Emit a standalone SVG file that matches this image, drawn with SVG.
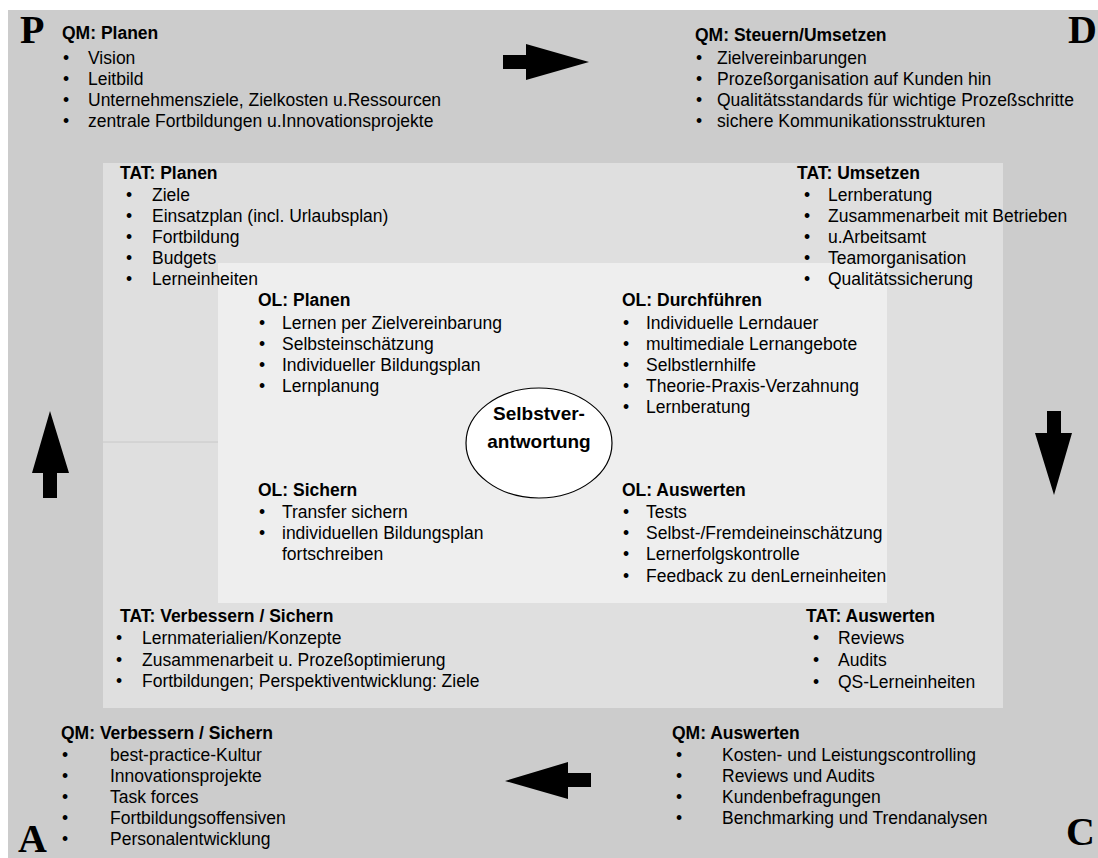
<svg xmlns="http://www.w3.org/2000/svg" width="1098" height="858" viewBox="0 0 1098 858">
<style>
text{font-family:"Liberation Sans",Arial,sans-serif;font-size:17.5px;fill:#000}
.h{font-weight:bold}
.c{font-weight:bold;font-size:19px}
.big{font-family:"Liberation Serif","Times New Roman",serif;font-size:40px;font-weight:bold}
.arr{fill:#000}
</style>
<rect x="0" y="0" width="1098" height="858" fill="#fff"/>
<rect id="outer" x="8" y="10" width="1090" height="848" fill="#cccccc"/>
<rect id="middle" x="103" y="163" width="900" height="545" fill="#dfdfdf"/>
<rect id="inner" x="218" y="263" width="669" height="340" fill="#eeeeee"/>
<line x1="103" y1="442" x2="218" y2="442" stroke="#c8c8c8" stroke-width="1"/>

<g id="letters">
<text class="big" x="20" y="43">P</text>
<text class="big" x="1068" y="43">D</text>
<text class="big" x="1066" y="845">C</text>
<text class="big" x="18" y="852">A</text>
</g>

<g id="qm-planen">
<text class="h" x="62" y="39">QM: Planen</text>
<text x="63" y="64">•</text><text x="88" y="64">Vision</text>
<text x="63" y="85">•</text><text x="88" y="85">Leitbild</text>
<text x="63" y="106">•</text><text x="88" y="106">Unternehmensziele, Zielkosten u.Ressourcen</text>
<text x="63" y="127">•</text><text x="88" y="127">zentrale Fortbildungen u.Innovationsprojekte</text>
</g>

<g id="qm-steuern">
<text class="h" x="695" y="41">QM: Steuern/Umsetzen</text>
<text x="696" y="64">•</text><text x="717" y="64">Zielvereinbarungen</text>
<text x="696" y="85">•</text><text x="717" y="85">Prozeßorganisation auf Kunden hin</text>
<text x="696" y="106">•</text><text x="717" y="106">Qualitätsstandards für wichtige Prozeßschritte</text>
<text x="696" y="127">•</text><text x="717" y="127">sichere Kommunikationsstrukturen</text>
</g>

<g id="tat-planen">
<text class="h" x="120" y="179">TAT: Planen</text>
<text x="126" y="201">•</text><text x="152" y="201">Ziele</text>
<text x="126" y="222">•</text><text x="152" y="222">Einsatzplan (incl. Urlaubsplan)</text>
<text x="126" y="243">•</text><text x="152" y="243">Fortbildung</text>
<text x="126" y="264">•</text><text x="152" y="264">Budgets</text>
<text x="126" y="285">•</text><text x="152" y="285">Lerneinheiten</text>
</g>

<g id="tat-umsetzen">
<text class="h" x="797" y="179">TAT: Umsetzen</text>
<text x="804" y="201">•</text><text x="828" y="201">Lernberatung</text>
<text x="804" y="222">•</text><text x="828" y="222">Zusammenarbeit mit Betrieben</text>
<text x="804" y="243">•</text><text x="828" y="243">u.Arbeitsamt</text>
<text x="804" y="264">•</text><text x="828" y="264">Teamorganisation</text>
<text x="804" y="285">•</text><text x="828" y="285">Qualitätssicherung</text>
</g>

<g id="ol-planen">
<text class="h" x="258" y="306">OL: Planen</text>
<text x="259" y="329">•</text><text x="282" y="329">Lernen per Zielvereinbarung</text>
<text x="259" y="350">•</text><text x="282" y="350">Selbsteinschätzung</text>
<text x="259" y="371">•</text><text x="282" y="371">Individueller Bildungsplan</text>
<text x="259" y="392">•</text><text x="282" y="392">Lernplanung</text>
</g>

<g id="ol-durchfuehren">
<text class="h" x="622" y="306">OL: Durchführen</text>
<text x="623" y="329">•</text><text x="646" y="329">Individuelle Lerndauer</text>
<text x="623" y="350">•</text><text x="646" y="350">multimediale Lernangebote</text>
<text x="623" y="371">•</text><text x="646" y="371">Selbstlernhilfe</text>
<text x="623" y="392">•</text><text x="646" y="392">Theorie-Praxis-Verzahnung</text>
<text x="623" y="413">•</text><text x="646" y="413">Lernberatung</text>
</g>

<g id="center">
<ellipse cx="539" cy="443" rx="73" ry="55" fill="#fff" stroke="#000" stroke-width="1.2"/>
<text class="c" x="539" y="420" text-anchor="middle">Selbstver-</text>
<text class="c" x="539" y="448" text-anchor="middle">antwortung</text>
</g>

<g id="ol-sichern">
<text class="h" x="258" y="496">OL: Sichern</text>
<text x="259" y="518">•</text><text x="282" y="518">Transfer sichern</text>
<text x="259" y="539">•</text><text x="282" y="539">individuellen Bildungsplan</text>
<text x="282" y="560">fortschreiben</text>
</g>

<g id="ol-auswerten">
<text class="h" x="622" y="496">OL: Auswerten</text>
<text x="623" y="518">•</text><text x="646" y="518">Tests</text>
<text x="623" y="539">•</text><text x="646" y="539">Selbst-/Fremdeineinschätzung</text>
<text x="623" y="560">•</text><text x="646" y="560">Lernerfolgskontrolle</text>
<text x="623" y="582">•</text><text x="646" y="582">Feedback zu denLerneinheiten</text>
</g>

<g id="tat-verbessern">
<text class="h" x="120" y="622">TAT: Verbessern / Sichern</text>
<text x="116" y="644">•</text><text x="142" y="644">Lernmaterialien/Konzepte</text>
<text x="116" y="666">•</text><text x="142" y="666">Zusammenarbeit u. Prozeßoptimierung</text>
<text x="116" y="687">•</text><text x="142" y="687">Fortbildungen; Perspektiventwicklung: Ziele</text>
</g>

<g id="tat-auswerten">
<text class="h" x="806" y="622">TAT: Auswerten</text>
<text x="813" y="644">•</text><text x="838" y="644">Reviews</text>
<text x="813" y="666">•</text><text x="838" y="666">Audits</text>
<text x="813" y="688">•</text><text x="838" y="688">QS-Lerneinheiten</text>
</g>

<g id="qm-verbessern">
<text class="h" x="61" y="739">QM: Verbessern / Sichern</text>
<text x="62" y="761">•</text><text x="110" y="761">best-practice-Kultur</text>
<text x="62" y="782">•</text><text x="110" y="782">Innovationsprojekte</text>
<text x="62" y="803">•</text><text x="110" y="803">Task forces</text>
<text x="62" y="824">•</text><text x="110" y="824">Fortbildungsoffensiven</text>
<text x="62" y="845">•</text><text x="110" y="845">Personalentwicklung</text>
</g>

<g id="qm-auswerten">
<text class="h" x="672" y="739">QM: Auswerten</text>
<text x="676" y="761">•</text><text x="722" y="761">Kosten- und Leistungscontrolling</text>
<text x="676" y="782">•</text><text x="722" y="782">Reviews und Audits</text>
<text x="676" y="803">•</text><text x="722" y="803">Kundenbefragungen</text>
<text x="676" y="824">•</text><text x="722" y="824">Benchmarking  und Trendanalysen</text>
</g>

<g id="connectors">
<polygon class="arr" points="503,55 526,55 526,44 589,62 526,80 526,69 503,69"/>
<polygon class="arr" points="1047,411 1061,411 1061,433 1072,433 1054,495 1035,433 1047,433"/>
<polygon class="arr" points="591,773 568,773 568,762 505,781 568,799 568,787 591,787"/>
<polygon class="arr" points="43,498 57,498 57,473 69,473 50,411 32,473 43,473"/>
</g>
</svg>
